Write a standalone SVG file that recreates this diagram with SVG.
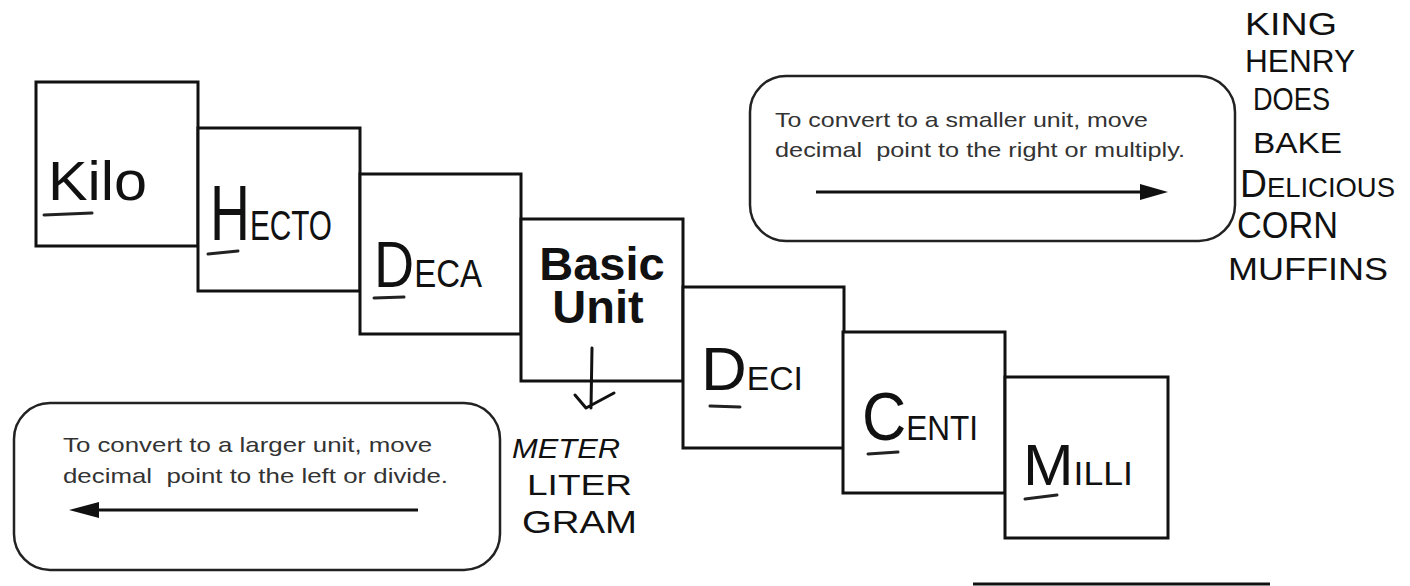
<svg xmlns="http://www.w3.org/2000/svg" width="1410" height="586" viewBox="0 0 1410 586">
<style>
.box{fill:#fff;stroke:#111;stroke-width:3}
.rbox{fill:none;stroke:#222;stroke-width:2.5}
.hw{font-family:"Liberation Sans",Arial,sans-serif;fill:#111}
.it{font-style:italic}
.pr{font-family:"Liberation Sans",Arial,sans-serif;fill:#333;font-size:21px;white-space:pre}
.ul{stroke:#222;stroke-width:3;stroke-linecap:round;fill:none}
.bold{font-family:"Liberation Sans",Arial,sans-serif;font-weight:bold;font-size:47px;fill:#111;text-anchor:middle}
.arr{stroke:#111;stroke-width:3;fill:none}
.head{fill:#111}
</style>
<rect width="1410" height="586" fill="#fff"/>

<g id="kilo">
<rect class="box" x="36" y="82" width="162" height="164"/>
<text class="hw" x="48" y="200" font-size="56" textLength="99" lengthAdjust="spacingAndGlyphs">Kilo</text>
<line class="ul" x1="44" y1="215" x2="92" y2="213"/>
</g>

<g id="hecto">
<rect class="box" x="198" y="128" width="162" height="163"/>
<text class="hw" x="210" y="240" textLength="122" lengthAdjust="spacingAndGlyphs"><tspan font-size="78">H</tspan><tspan font-size="42">ECTO</tspan></text>
<line class="ul" x1="208" y1="254" x2="238" y2="251"/>
</g>

<g id="deca">
<rect class="box" x="360" y="174" width="161" height="160"/>
<text class="hw" x="374" y="287" textLength="108" lengthAdjust="spacingAndGlyphs"><tspan font-size="64">D</tspan><tspan font-size="38">ECA</tspan></text>
<line class="ul" x1="374" y1="298" x2="404" y2="297"/>
</g>

<g id="basic-unit">
<rect class="box" x="521" y="219" width="162" height="162"/>
<text class="bold"><tspan x="602" y="280">Basic</tspan><tspan x="598" y="323">Unit</tspan></text>
</g>

<g id="units">
<text class="hw it" x="512" y="458" font-size="28" textLength="108" lengthAdjust="spacingAndGlyphs">METER</text>
<text class="hw" x="527" y="495" font-size="30" textLength="105" lengthAdjust="spacingAndGlyphs">LITER</text>
<text class="hw" x="522" y="533" font-size="32" textLength="115" lengthAdjust="spacingAndGlyphs">GRAM</text>
</g>

<g id="deci">
<rect class="box" x="683" y="287" width="161" height="161"/>
<text class="hw" x="701" y="390" textLength="102" lengthAdjust="spacingAndGlyphs"><tspan font-size="62">D</tspan><tspan font-size="33">ECI</tspan></text>
<line class="ul" x1="710" y1="406" x2="740" y2="407"/>
</g>

<g id="centi">
<rect class="box" x="843" y="332" width="162" height="161"/>
<text class="hw" x="862" y="440" textLength="116" lengthAdjust="spacingAndGlyphs"><tspan font-size="68">C</tspan><tspan font-size="35">ENTI</tspan></text>
<line class="ul" x1="868" y1="454" x2="898" y2="452"/>
</g>

<g id="milli">
<rect class="box" x="1005" y="377" width="163" height="161"/>
<text class="hw" x="1023" y="485" textLength="110" lengthAdjust="spacingAndGlyphs"><tspan font-size="58">M</tspan><tspan font-size="34">ILLI</tspan></text>
<line class="ul" x1="1025" y1="499" x2="1057" y2="495"/>
</g>

<g id="smaller-note">
<rect class="rbox" x="750" y="76" width="485" height="165" rx="36"/>
<text class="pr" x="775" y="127" textLength="373" lengthAdjust="spacingAndGlyphs">To convert to a smaller unit, move</text>
<text class="pr" x="775" y="157" textLength="410" lengthAdjust="spacingAndGlyphs">decimal  point to the right or multiply.</text>
</g>

<g id="larger-note">
<rect class="rbox" x="14" y="403" width="486" height="167" rx="36"/>
<text class="pr" x="63" y="452" textLength="369" lengthAdjust="spacingAndGlyphs">To convert to a larger unit, move</text>
<text class="pr" x="63" y="483" textLength="385" lengthAdjust="spacingAndGlyphs">decimal  point to the left or divide.</text>
</g>

<g id="mnemonic">
<text class="hw" x="1245" y="35" font-size="32" textLength="92" lengthAdjust="spacingAndGlyphs">KING</text>
<text class="hw" x="1245" y="72" font-size="32" textLength="110" lengthAdjust="spacingAndGlyphs">HENRY</text>
<text class="hw" x="1253" y="110" font-size="32" textLength="77" lengthAdjust="spacingAndGlyphs">DOES</text>
<text class="hw" x="1253" y="153" font-size="30" textLength="89" lengthAdjust="spacingAndGlyphs">BAKE</text>
<text class="hw" x="1240" y="197" textLength="155" lengthAdjust="spacingAndGlyphs"><tspan font-size="38">D</tspan><tspan font-size="28">ELICIOUS</tspan></text>
<text class="hw" x="1237" y="238" font-size="36" textLength="101" lengthAdjust="spacingAndGlyphs">CORN</text>
<text class="hw" x="1228" y="280" font-size="32" textLength="160" lengthAdjust="spacingAndGlyphs">MUFFINS</text>
</g>

<g id="connectors">
<line class="arr" x1="816" y1="192" x2="1145" y2="192"/>
<polygon class="head" points="1140,184 1168,192 1140,200"/>
<line class="arr" x1="95" y1="510" x2="418" y2="510"/>
<polygon class="head" points="69,510 99,502 99,518"/>
<path class="arr" d="M592,348 L591,408 M575,395 L586,408 L614,393" stroke-width="2.5" stroke-linejoin="round" stroke-linecap="round"/>
</g>

<line x1="973" y1="584" x2="1270" y2="584" stroke="#111" stroke-width="3"/>
</svg>
